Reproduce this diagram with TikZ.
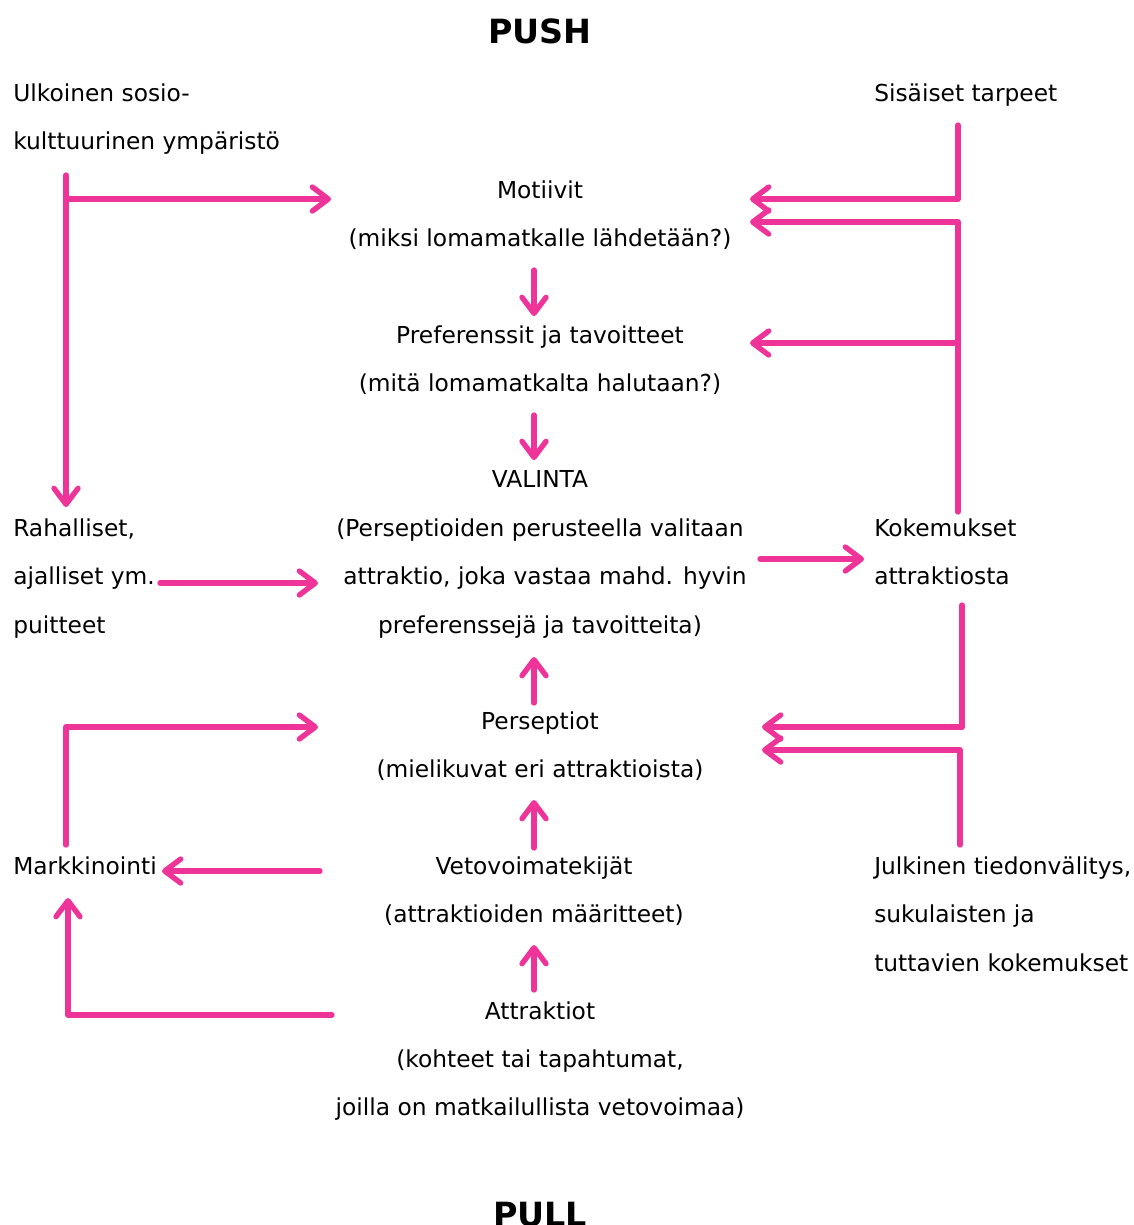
\documentclass[tikz,border=0pt]{standalone}
\usepackage{fontspec}
\setmainfont{DejaVu Sans}
\usetikzlibrary{arrows.meta}

\definecolor{pinkc}{RGB}{238,52,152}
\tikzset{
  txt/.style={anchor=base, inner sep=0pt, font=\fontsize{17.5}{21}\selectfont},
  ltxt/.style={txt, anchor=base west},
  ttl/.style={anchor=base, inner sep=0pt, font=\fontsize{25}{30}\selectfont\bfseries},
  arr/.style={draw=pinkc, line width=4pt, line cap=round, line join=round,
    -{Straight Barb[length=12pt, width=18pt, round]},
    preaction={draw=black, draw opacity=0.15, transform canvas={shift={(1pt,-1.5pt)}}}},
}

\begin{document}
\begin{tikzpicture}[x=0.75pt,y=0.75pt,yscale=-1]
\useasboundingbox (0,0) rectangle (1134,1225);

% Text Node
\draw (540,43) node [ttl] (push) {PUSH};
% Text Node
\draw (540,1226) node [ttl] (pull) {PULL};

% Text Node
\draw (13,101) node [ltxt] (ulk1) {Ulkoinen sosio-};
\draw (13,149) node [ltxt] (ulk2) {kulttuurinen ympäristö};
% Text Node
\draw (874,101) node [ltxt] (sis) {Sisäiset tarpeet};

% Text Node
\draw (540,198) node [txt] (mot1) {Motiivit};
\draw (540,246) node [txt] (mot2) {(miksi lomamatkalle lähdetään?)};
% Text Node
\draw (540,343) node [txt] (pref1) {Preferenssit ja tavoitteet};
\draw (540,391) node [txt] (pref2) {(mitä lomamatkalta halutaan?)};
% Text Node
\draw (540,487) node [txt] (val1) {VALINTA};
\draw (540,536) node [txt] (val2) {(Perseptioiden perusteella valitaan};
\draw (545,584) node [txt] (val3) {attraktio, joka vastaa mahd. hyvin};
\draw (540,633) node [txt] (val4) {preferenssejä ja tavoitteita)};

% Text Node
\draw (13,536) node [ltxt] (rah1) {Rahalliset,};
\draw (13,584) node [ltxt] (rah2) {ajalliset ym.};
\draw (13,633) node [ltxt] (rah3) {puitteet};
% Text Node
\draw (874,536) node [ltxt] (kok1) {Kokemukset};
\draw (874,584) node [ltxt] (kok2) {attraktiosta};

% Text Node
\draw (540,729) node [txt] (per1) {Perseptiot};
\draw (540,777) node [txt] (per2) {(mielikuvat eri attraktioista)};

% Text Node
\draw (13,874) node [ltxt] (mark) {Markkinointi};
% Text Node
\draw (534,874) node [txt] (vet1) {Vetovoimatekijät};
\draw (534,922) node [txt] (vet2) {(attraktioiden määritteet)};
% Text Node
\draw (874,874) node [ltxt] (jul1) {Julkinen tiedonvälitys,};
\draw (874,922) node [ltxt] (jul2) {sukulaisten ja};
\draw (874,971) node [ltxt] (jul3) {tuttavien kokemukset};

% Text Node
\draw (540,1019) node [txt] (att1) {Attraktiot};
\draw (540,1067) node [txt] (att2) {(kohteet tai tapahtumat,};
\draw (540,1115) node [txt] (att3) {joilla on matkailullista vetovoimaa)};

% Coordinates for the connectors
\coordinate (ulkT) at (66,175);
\coordinate (ulkB) at (66,507);
\coordinate (ulkJ) at (66,199);
\coordinate (motL) at (331,199);
\coordinate (sisT) at (958,125);
\coordinate (motR1) at (750,199);
\coordinate (kokT) at (958,512);
\coordinate (motR2) at (750,222);
\coordinate (kokJ) at (958,343);
\coordinate (prefR) at (750,343);
\coordinate (motB) at (534,270);
\coordinate (prefT) at (534,316);
\coordinate (prefB) at (534,415);
\coordinate (valT) at (534,460);
\coordinate (rahR) at (160,583);
\coordinate (valL) at (318,583);
\coordinate (valR) at (760,559);
\coordinate (kokL) at (864,559);
\coordinate (perT) at (534,703);
\coordinate (valB) at (534,657);
\coordinate (vetT) at (534,848);
\coordinate (perB) at (534,800);
\coordinate (attT) at (534,990);
\coordinate (vetB) at (534,945);
\coordinate (kokB) at (962,605);
\coordinate (perR1) at (762,727);
\coordinate (julT) at (960,845);
\coordinate (perR2) at (762,750);
\coordinate (markT) at (66,845);
\coordinate (perL) at (318,727);
\coordinate (vetL) at (320,871);
\coordinate (markR) at (162,871);
\coordinate (attL) at (332,1015);
\coordinate (markB) at (68,898);

%Straight Lines
\draw [arr] (ulkT) -- (ulkB);
\draw [arr] (ulkJ) -- (motL);
\draw [arr] (sisT) |- (motR1);
\draw [arr] (kokT) |- (motR2);
\draw [arr] (kokJ) -- (prefR);
\draw [arr] (motB) -- (prefT);
\draw [arr] (prefB) -- (valT);
\draw [arr] (rahR) -- (valL);
\draw [arr] (valR) -- (kokL);
\draw [arr] (perT) -- (valB);
\draw [arr] (vetT) -- (perB);
\draw [arr] (attT) -- (vetB);
\draw [arr] (kokB) |- (perR1);
\draw [arr] (julT) |- (perR2);
\draw [arr] (markT) |- (perL);
\draw [arr] (vetL) -- (markR);
\draw [arr] (attL) -| (markB);

\end{tikzpicture}
\end{document}
